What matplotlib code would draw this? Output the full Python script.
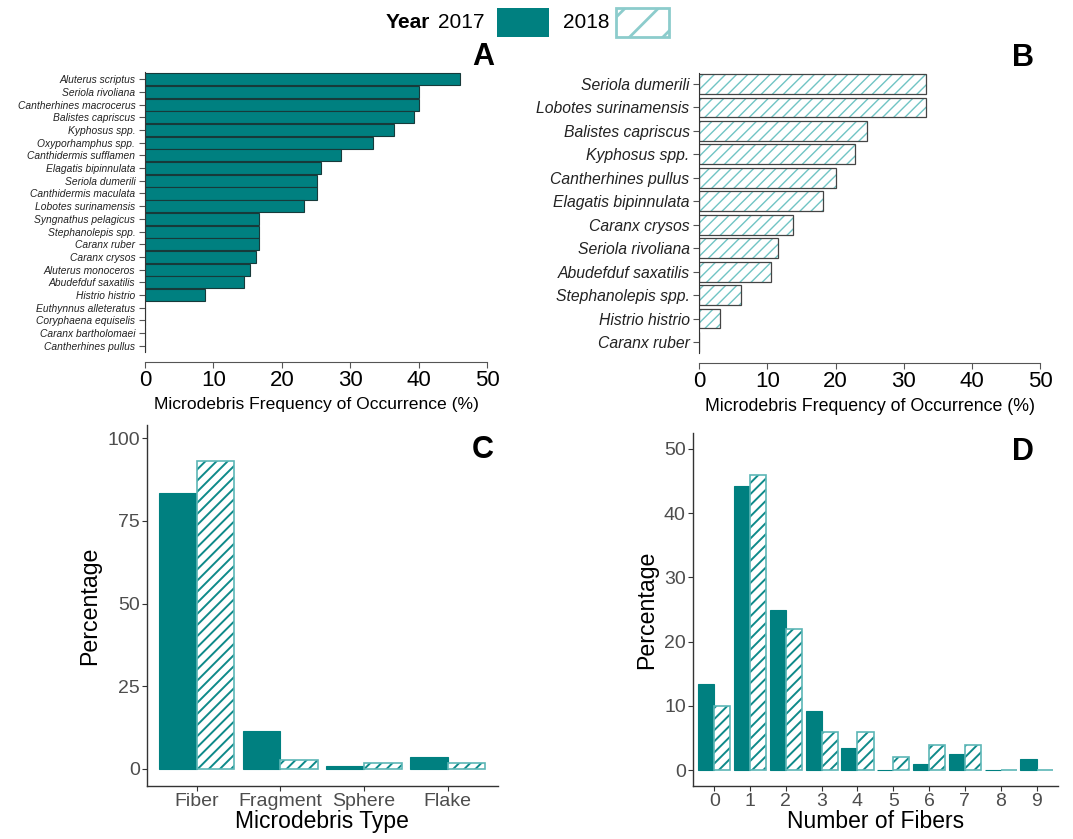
import matplotlib
matplotlib.use('Agg')
import matplotlib.pyplot as plt
from matplotlib.patches import Rectangle
import numpy as np

plt.rcParams['font.family'] = ['Liberation Sans', 'DejaVu Sans']
plt.rcParams['hatch.linewidth'] = 1.0

# ---- data ----
species_a = ['Aluterus scriptus', 'Seriola rivoliana', 'Cantherhines macrocerus',
             'Balistes capriscus', 'Kyphosus spp.', 'Oxyporhamphus spp.',
             'Canthidermis sufflamen', 'Elagatis bipinnulata', 'Seriola dumerili',
             'Canthidermis maculata', 'Lobotes surinamensis', 'Syngnathus pelagicus',
             'Stephanolepis spp.', 'Caranx ruber', 'Caranx crysos',
             'Aluterus monoceros', 'Abudefduf saxatilis', 'Histrio histrio',
             'Euthynnus alleteratus', 'Coryphaena equiselis', 'Caranx bartholomaei',
             'Cantherhines pullus']
freq_2017 = [46.1, 40.0, 40.0, 39.4, 36.4, 33.3, 28.7, 25.8, 25.1, 25.1, 23.2,
             16.7, 16.7, 16.7, 16.3, 15.4, 14.5, 8.7, 0, 0, 0, 0]

species_b = ['Seriola dumerili', 'Lobotes surinamensis', 'Balistes capriscus',
             'Kyphosus spp.', 'Cantherhines pullus', 'Elagatis bipinnulata',
             'Caranx crysos', 'Seriola rivoliana', 'Abudefduf saxatilis',
             'Stephanolepis spp.', 'Histrio histrio', 'Caranx ruber']
freq_2018 = [33.3, 33.3, 24.6, 22.9, 20.1, 18.2, 13.7, 11.6, 10.5, 6.1, 3.1, 0]

debris_types = ['Fiber', 'Fragment', 'Sphere', 'Flake']
type_2017 = [83.5, 11.6, 1.0, 3.6]
type_2018 = [93.0, 2.8, 1.8, 1.8]

n_fibers = ['0', '1', '2', '3', '4', '5', '6', '7', '8', '9']
fib_2017 = [13.4, 44.2, 25.0, 9.2, 3.4, 0, 0.9, 2.5, 0, 1.7]
fib_2018 = [10.0, 45.9, 22.0, 5.9, 5.9, 2.0, 4.0, 4.0, 0, 0]

teal = '#008080'
hatch_dark = '#0e8a8a'
outline_light = '#5cb6b6'
hatch_light = '#70c4c4'
gray_txt = '#4d4d4d'

W, H = 1073, 839
fig = plt.figure(figsize=(W / 100, H / 100), dpi=100)


def px_axes(x0, y0, x1, y1):
    return fig.add_axes([x0 / W, 1 - y1 / H, (x1 - x0) / W, (y1 - y0) / H])


def ftext(x, y, s, **kw):
    fig.text(x / W, 1 - y / H, s, **kw)


# ---- panel A ----
axA = px_axes(145, 72, 487, 352)
ya = np.arange(len(species_a))
axA.barh(ya, freq_2017, height=0.95, color=teal, edgecolor='#173a3a', linewidth=0.8)
axA.set_xlim(0, 50)
axA.set_ylim(21.5, -0.58)
axA.set_yticks(ya)
axA.set_yticklabels(species_a, fontsize=7.4, style='italic', color='#222222')
axA.set_xticks(range(0, 51, 10))
axA.tick_params(axis='x', labelsize=16, length=4, pad=2, color='#555555')
axA.tick_params(axis='y', length=4, pad=3, color='#555555')
for s in ['top', 'right']:
    axA.spines[s].set_visible(False)
axA.spines['bottom'].set_position(('outward', 7.2))
axA.spines['bottom'].set_color('#555555')
axA.spines['left'].set_color('#333333')
axA.set_xlabel('Microdebris Frequency of Occurrence (%)', fontsize=12.6, labelpad=4)

# ---- panel B ----
axB = px_axes(699.3, 73, 1040, 353)
yb = np.arange(len(species_b))
axB.barh(yb, freq_2018, height=0.85, color='white', edgecolor=hatch_light,
         hatch='///', linewidth=0)
axB.barh(yb, freq_2018, height=0.85, fill=False, edgecolor='#444444', linewidth=0.9)
axB.set_xlim(0, 50)
axB.set_ylim(11.47, -0.47)
axB.set_yticks(yb)
axB.set_yticklabels(species_b, fontsize=11.3, style='italic', color='#222222')
axB.set_xticks(range(0, 51, 10))
axB.tick_params(axis='x', labelsize=16, length=4, pad=2, color='#555555')
axB.tick_params(axis='y', length=4, pad=3, color='#555555')
for s in ['top', 'right']:
    axB.spines[s].set_visible(False)
axB.spines['bottom'].set_position(('outward', 7.2))
axB.spines['bottom'].set_color('#555555')
axB.spines['left'].set_color('#333333')
axB.set_xlabel('Microdebris Frequency of Occurrence (%)', fontsize=12.8, labelpad=4)


def dodge_panel(ax, cats, v17, v18):
    x = np.arange(len(cats))
    ax.bar(x - 0.225, v17, 0.45, color=teal, edgecolor=teal, linewidth=0.8)
    with plt.rc_context({'hatch.linewidth': 1.4}):
        ax.bar(x + 0.225, v18, 0.45, color='white', edgecolor=hatch_dark,
               hatch='///', linewidth=0)
    ax.bar(x + 0.225, v18, 0.45, fill=False, edgecolor=outline_light, linewidth=1.2)
    ax.set_xticks(x)
    ax.set_xticklabels(cats)
    ax.tick_params(labelsize=14, labelcolor=gray_txt, length=3.5, pad=1.5,
                   color='#333333')
    for s in ['top', 'right']:
        ax.spines[s].set_visible(False)
    for s in ['left', 'bottom']:
        ax.spines[s].set_color('#333333')
        ax.spines[s].set_linewidth(1.0)
    ax.set_ylabel('Percentage', fontsize=16.7, labelpad=4)


# ---- panel C ----
axC = px_axes(146.7, 425, 497.7, 786)
dodge_panel(axC, debris_types, type_2017, type_2018)
axC.set_xlim(-0.597, 3.6)
axC.set_ylim(-5.17, 104)
axC.set_yticks([0, 25, 50, 75, 100])
axC.set_xlabel('Microdebris Type', fontsize=16.5, labelpad=0)

# ---- panel D ----
axD = px_axes(692.7, 433, 1058, 786)
dodge_panel(axD, n_fibers, fib_2017, fib_2018)
axD.set_xlim(-0.6, 9.6)
axD.set_ylim(-2.45, 52.45)
axD.set_yticks([0, 10, 20, 30, 40, 50])
axD.set_xlabel('Number of Fibers', fontsize=16.5, labelpad=0)

# ---- panel letters ----
for lab, x, y in [('A', 483, 57), ('B', 1023, 58), ('C', 483, 450), ('D', 1023, 452)]:
    ftext(x, y, lab, fontsize=22, fontweight='bold', ha='center', va='center')

# ---- legend ----
ftext(386, 23, 'Year', fontsize=15, fontweight='bold', ha='left', va='center')
ftext(438, 23, '2017', fontsize=15, ha='left', va='center')
ftext(563, 23, '2018', fontsize=15, ha='left', va='center')
fig.add_artist(Rectangle((497 / W, 1 - 37 / H), 52 / W, 29 / H, transform=fig.transFigure,
                         facecolor=teal, edgecolor='none'))
with plt.rc_context({'hatch.linewidth': 2.0}):
    fig.add_artist(Rectangle((616 / W, 1 - 37 / H), 53 / W, 29 / H,
                             transform=fig.transFigure, facecolor='white',
                             edgecolor='#8ccccc', hatch='/', linewidth=2))

fig.savefig('out.png', dpi=100)
